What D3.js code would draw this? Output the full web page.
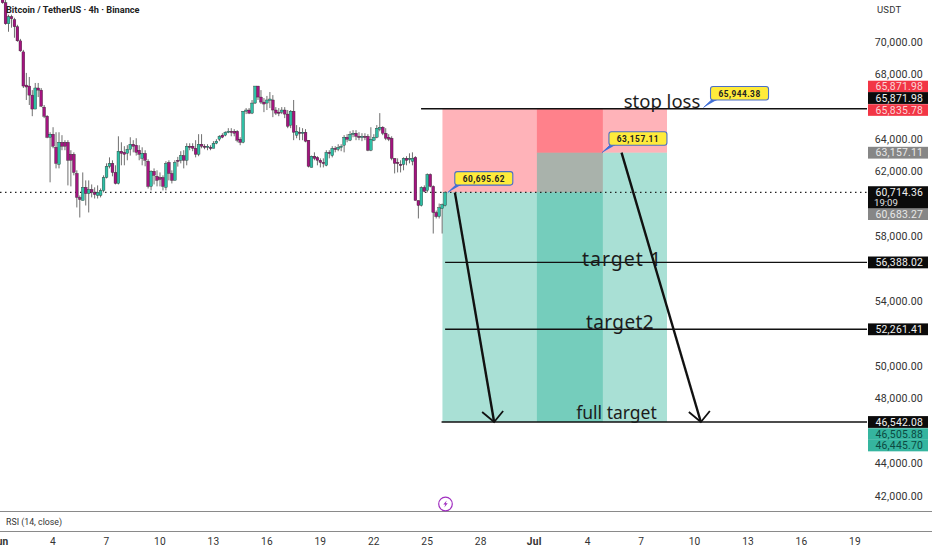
<!DOCTYPE html>
<html><head><meta charset="utf-8">
<script src="https://cdn.jsdelivr.net/npm/d3@7"></script>
<style>html,body{margin:0;padding:0;background:#fff;overflow:hidden}svg{display:block;font-family:Roboto,"Liberation Sans",sans-serif}</style>
</head><body><svg id="c" width="932" height="550"></svg>
<script>
// OHLC of 4h candles, thousands of USDT, first candle 1 Jun 04:00
const opens=[72.60,72.41,71.11,71.55,71.36,70.93,70.06,69.38,67.33,67.27,66.71,65.85,67.15,67.02,65.97,65.41,64.11,64.30,63.49,62.44,63.80,63.80,63.80,63.06,63.06,61.88,60.40,60.21,61.02,60.64,60.89,60.71,60.52,60.52,60.83,61.63,62.32,62.50,61.94,61.26,63.25,63.18,63.12,63.37,63.68,63.62,63.31,62.81,63.12,62.63,61.08,62.01,61.70,61.63,61.63,61.02,62.56,61.88,61.45,62.69,62.69,62.98,62.69,63.56,63.56,63.43,63.06,63.68,63.56,63.49,63.49,63.43,63.74,63.99,64.24,64.24,64.42,64.48,64.48,64.48,63.99,63.80,65.72,65.79,65.60,66.22,67.27,66.59,66.28,66.22,66.41,66.41,65.79,65.66,65.66,65.79,65.54,64.86,65.72,64.24,64.42,64.36,64.42,63.93,62.25,62.94,62.87,62.69,62.56,62.38,63.18,62.98,63.43,63.37,63.49,63.62,64.11,63.93,64.30,64.36,64.17,64.11,64.17,64.17,63.31,63.93,64.11,64.61,64.73,64.36,64.11,64.05,62.81,62.56,62.44,62.44,62.81,62.75,62.63,62.87,60.21,59.90,61.02,60.83,61.82,61.08,59.47,59.22,59.71,59.90];
const highs=[72.60,72.60,71.67,71.67,71.48,71.05,70.18,69.50,68.08,67.83,67.02,67.46,67.46,67.15,66.10,65.48,64.42,64.73,64.42,64.42,64.24,63.93,63.93,63.31,63.18,62.07,60.52,61.94,61.45,61.45,61.20,61.02,61.14,60.95,61.76,62.50,62.87,62.69,62.38,64.17,63.80,63.56,63.62,64.11,63.93,64.05,63.62,63.49,63.31,62.75,62.07,62.19,62.07,61.94,61.76,62.63,62.69,62.07,62.69,62.90,63.25,63.31,63.74,63.74,63.74,63.93,64.30,64.30,63.68,63.68,63.62,63.87,63.99,64.24,64.36,64.48,64.67,64.67,64.61,64.55,64.11,65.72,65.91,65.91,66.41,67.27,67.27,67.02,66.53,66.66,66.90,66.71,65.97,65.91,65.97,65.97,65.79,65.79,66.41,64.86,64.73,64.67,64.61,63.93,62.98,63.18,62.94,62.81,62.81,63.31,63.31,63.56,63.56,63.68,63.68,64.24,64.30,64.48,64.55,64.55,64.42,64.36,64.36,64.30,64.73,64.30,64.86,65.60,64.79,64.67,64.30,64.17,62.81,62.81,62.69,62.87,62.94,63.12,63.18,62.94,60.21,61.08,61.14,61.88,61.88,61.14,59.59,60.02,60.02,60.77];
const lows=[72.35,71.05,70.62,70.87,70.25,70.00,69.38,67.15,66.41,66.10,65.41,65.85,66.59,65.97,65.29,64.05,61.33,63.43,62.19,62.19,63.31,63.31,61.14,61.08,61.76,59.78,59.16,60.21,59.90,59.47,60.40,60.33,60.33,60.40,60.71,61.57,62.19,61.70,61.20,61.20,62.38,62.38,62.69,62.98,63.18,62.98,62.69,62.38,62.32,60.95,60.83,61.20,61.08,61.08,60.83,60.83,61.45,61.26,61.45,62.30,62.50,62.19,62.38,63.31,63.25,62.87,62.94,63.43,63.37,63.31,63.31,63.43,63.68,63.87,64.05,64.17,64.36,64.17,64.17,63.80,63.62,63.74,65.54,65.54,65.54,66.16,66.41,66.16,65.66,65.79,65.91,65.35,65.48,65.41,65.54,65.29,64.67,64.67,63.93,64.05,63.93,63.93,63.80,62.25,62.25,62.69,62.38,62.25,62.25,62.32,62.81,62.87,63.18,63.25,63.25,63.18,63.80,63.87,64.11,63.93,63.93,63.87,63.93,63.25,63.25,63.87,64.05,64.48,64.24,63.93,63.87,62.69,61.88,61.94,61.94,62.07,62.38,62.50,62.38,60.21,59.10,59.84,60.71,60.71,61.02,58.17,59.10,59.10,58.17,59.84];
const closes=[72.41,71.11,71.55,71.42,70.93,70.06,69.44,67.27,67.21,66.71,65.85,67.15,67.02,66.03,65.41,64.11,64.30,63.56,62.50,63.80,63.56,63.56,62.69,62.69,61.94,60.40,60.27,61.02,60.64,60.89,60.71,60.58,60.71,60.83,61.63,62.32,62.50,61.94,61.26,63.25,63.12,63.06,63.37,63.68,63.56,63.18,63.06,63.12,62.69,61.08,62.01,61.76,61.45,61.51,61.08,62.50,61.88,61.45,62.56,62.63,62.98,62.69,63.56,63.49,63.43,63.06,63.68,63.56,63.49,63.56,63.43,63.74,63.87,64.17,64.11,64.42,64.48,64.42,64.36,63.93,63.80,65.72,65.79,65.60,66.22,67.27,66.59,66.28,66.16,66.41,66.47,65.79,65.60,65.60,65.79,65.54,64.79,65.72,64.42,64.48,64.36,64.42,63.87,62.32,62.94,62.81,62.69,62.56,62.50,63.18,63.12,63.43,63.37,63.49,63.56,64.11,63.99,64.30,64.36,64.17,64.11,64.17,64.11,63.31,63.99,64.11,64.67,64.73,64.36,64.05,63.99,62.81,62.50,62.50,62.38,62.81,62.69,62.81,62.81,60.21,59.90,61.02,60.77,61.82,61.08,59.47,59.22,59.78,59.96,60.71];

const priceTicks=[70000,68000,64000,62000,58000,54000,50000,48000,44000,42000];
const dayTicks=[0,3,6,9,12,15,18,21,24,27,30,33,36,39,42,45,48];
const dayLabels=["Jun","4","7","10","13","16","19","22","25","28","Jul","4","7","10","13","16","19"];

const toolStarts=[24.85,30.15];
const toolEnds=[33.85,37.45];
const toolStops=[65871.98,65871.98];
const toolEntries=[60714.36,63157.11];
const toolTargets=[46542.08,46542.08];

const levelNames=["stop loss","target 1","target2","full target"];
const levelPrices=[65871.98,56388.02,52261.41,46542.08];
const levelStartDays=[23.65,25,25,24.8];

// tag labels, with the price height at which the stacked tag sits
const tagLabels=["65,871.98","65,871.98","65,835.78","63,157.11","60,714.36","60,683.27","56,388.02","52,261.41","46,542.08","46,505.88","46,445.70"];
const tagPrices=[67241,66531,65790,63157.11,60714.36,59370,56388.02,52261.41,46542.08,45800,45090];
const tagKinds=["r","k","r","g","k","g","k","k","k","t","t"];

const calloutLabels=["60,695.62","63,157.11","65,944.38"];
const calloutPrices=[60695.62,63157.11,65944.38];
const calloutDays=[25.15,33.8,39.5];

const arrowStartDays=[25.55,34.9];
const arrowStartPrices=[60695.62,63157.11];
const arrowEndDays=[27.75,39.35];
const arrowEndPrice=46542.08;

const svg=d3.select("#c");
const t0=Date.UTC(2024,5,1), DAY=864e5;
const x=d3.scaleUtc().domain([new Date(t0),new Date(t0+48*DAY)]).range([-0.4,855]);
const y=d3.scaleLinear().domain([70000,46542.08]).range([41.8,422]);
const xd=d=>x(new Date(t0+d*DAY));
const k=v=>y(v*1000);

// position tools
const tools=svg.append("g");
toolStarts.forEach((s,i)=>{
  tools.append("rect").attr("x",xd(s)).attr("width",xd(toolEnds[i])-xd(s)).attr("y",y(toolStops[i])).attr("height",y(toolEntries[i])-y(toolStops[i])).attr("fill","rgb(255,38,55)").attr("fill-opacity",.35);
  tools.append("rect").attr("x",xd(s)).attr("width",xd(toolEnds[i])-xd(s)).attr("y",y(toolEntries[i])).attr("height",y(toolTargets[i])-y(toolEntries[i])).attr("fill","rgb(40,177,150)").attr("fill-opacity",.4);
});

// dotted last price
svg.append("line").attr("x1",0).attr("x2",867).attr("y1",y(60714.36)).attr("y2",y(60714.36)).attr("stroke","#222").attr("stroke-width",1.2).attr("stroke-dasharray","1.5 3.5");

// candles
const cg=svg.append("g");
const cx=i=>xd((i+1)/6);
closes.forEach((c,i)=>{
  cg.append("line").attr("x1",cx(i)).attr("x2",cx(i)).attr("y1",k(highs[i])).attr("y2",k(lows[i])).attr("stroke","#6f6f6f").attr("stroke-width",1);
});
closes.forEach((c,i)=>{
  const up=c>=opens[i], top=k(Math.max(c,opens[i])), bot=k(Math.min(c,opens[i]));
  cg.append("rect").attr("x",cx(i)-1.4).attr("width",2.8).attr("y",top).attr("height",Math.max(bot-top,1.2))
    .attr("fill",up?"#2fbfa5":"#a3147f").attr("stroke","#222").attr("stroke-width",.35);
});

// level lines
levelPrices.forEach((p,i)=>{
  svg.append("line").attr("x1",xd(levelStartDays[i])).attr("x2",867).attr("y1",y(p)).attr("y2",y(p)).attr("stroke","#111").attr("stroke-width",1.4);
});
const labelX=[662,622,620,616.5], labelDy=[-1,3.5,0,-3], labelSize=[18.5,19.5,19,17.5], labelSpacing=[0,1,.4,0];
levelNames.forEach((n,i)=>{
  svg.append("text").attr("x",labelX[i]).attr("y",y(levelPrices[i])+labelDy[i]).attr("text-anchor","middle")
    .attr("font-family","'Noto Sans',sans-serif").attr("font-size",labelSize[i]).attr("letter-spacing",labelSpacing[i]).attr("fill","#1c1c1c").text(n);
});

// arrows
arrowStartDays.forEach((s,i)=>{
  const x1=xd(s),y1=y(arrowStartPrices[i]),x2=xd(arrowEndDays[i]),y2=y(arrowEndPrice);
  svg.append("line").attr("x1",x1).attr("y1",y1).attr("x2",x2).attr("y2",y2).attr("stroke","#111").attr("stroke-width",2.4);
  svg.append("path").attr("d",d3.line()([[x2-12,y2-10],[x2,y2],[x2+9,y2-11]])).attr("fill","none").attr("stroke","#111").attr("stroke-width",1.8);
});

// callouts
calloutLabels.forEach((l,i)=>{
  const px=xd(calloutDays[i]), py=y(calloutPrices[i]);
  svg.append("path").attr("d",d3.line()([[px,py],[px+8,py-7.5],[px+13,py-7.5]])).attr("fill","#3f6fd8").attr("stroke","#3f6fd8").attr("stroke-width",1);
  svg.append("rect").attr("x",px+7).attr("y",py-21).attr("width",58).attr("height",13.5).attr("rx",2.5).attr("fill","#ffeb3b").attr("stroke","#4a6fc8").attr("stroke-width",1.1);
  svg.append("text").attr("x",px+36).attr("y",py-11).attr("text-anchor","middle").attr("font-size",8.3).attr("font-weight",700).attr("letter-spacing",.5).attr("fill","#222").text(l);
});

// price axis
const ax=svg.append("g").attr("transform","translate(923,0)").call(d3.axisRight(y).tickValues(priceTicks).tickSize(0).tickPadding(0).tickFormat(d3.format(",.2f")));
ax.select(".domain").remove();
ax.selectAll("text").attr("text-anchor","end").attr("font-size",10.6).attr("font-family","Roboto,sans-serif").attr("letter-spacing",.2).attr("fill","#333");
svg.append("text").attr("x",877).attr("y",12.5).attr("font-size",9.5).attr("letter-spacing",.2).attr("fill","#333").text("USDT");

// tags
const lp=y(60714.36);
svg.append("rect").attr("x",868).attr("width",60).attr("y",lp-5.7).attr("height",22.7).attr("fill","#0b0b0b");
const tagFill={r:"#f23645",k:"#0b0b0b",g:"#868686",t:"#35b59f"}, tagText={r:"#fbd5d8",k:"#f0f0f0",g:"#e8e8e8",t:"#0c4a42"};
tagLabels.forEach((l,i)=>{
  const c=y(tagPrices[i]), h=tagKinds[i]==="t"||tagKinds[i]==="r"?11.6:11.8;
  svg.append("rect").attr("x",868).attr("width",60).attr("y",c-h/2).attr("height",h).attr("fill",tagFill[tagKinds[i]]);
  svg.append("text").attr("x",923).attr("y",c+3.7).attr("text-anchor","end").attr("font-size",10.4).attr("letter-spacing",.2).attr("fill",tagText[tagKinds[i]]).text(l);
});
svg.append("text").attr("x",874).attr("y",lp+13.5).attr("font-size",9.6).attr("fill","#e0e0e0").text("19:09");

// title and panes
svg.append("text").attr("x",6).attr("y",12.5).attr("font-size",9.2).attr("font-weight",700).attr("fill","#222").text("Bitcoin / TetherUS · 4h · Binance");
svg.append("line").attr("x1",0).attr("x2",932).attr("y1",511.5).attr("y2",511.5).attr("stroke","#8a8a8a");
svg.append("line").attr("x1",0).attr("x2",932).attr("y1",531.5).attr("y2",531.5).attr("stroke","#8a8a8a");
svg.append("text").attr("x",6).attr("y",525).attr("font-size",8.8).attr("fill","#333").text("RSI (14, close)");

// lightning marker
const ev=svg.append("g").attr("transform","translate(445.5,504)");
ev.append("circle").attr("r",6.8).attr("fill","#fff").attr("stroke","#a12fc0").attr("stroke-width",1.2);
ev.append("path").attr("d","M1.2,-3.6L-2.2,0.6L-0.2,0.6L-1.2,3.6L2.2,-0.8L0.2,-0.8Z").attr("fill","#a12fc0");

// time axis
const tg=svg.append("g").attr("transform","translate(0,545)");
dayTicks.forEach((d,i)=>{
  const bold=dayLabels[i]==="Jun"||dayLabels[i]==="Jul";
  tg.append("text").attr("x",xd(d)).attr("y",0).attr("text-anchor","middle").attr("font-size",10.2).attr("letter-spacing",.2).attr("font-weight",bold?700:400).attr("fill","#333").text(dayLabels[i]);
});
</script></body></html>
